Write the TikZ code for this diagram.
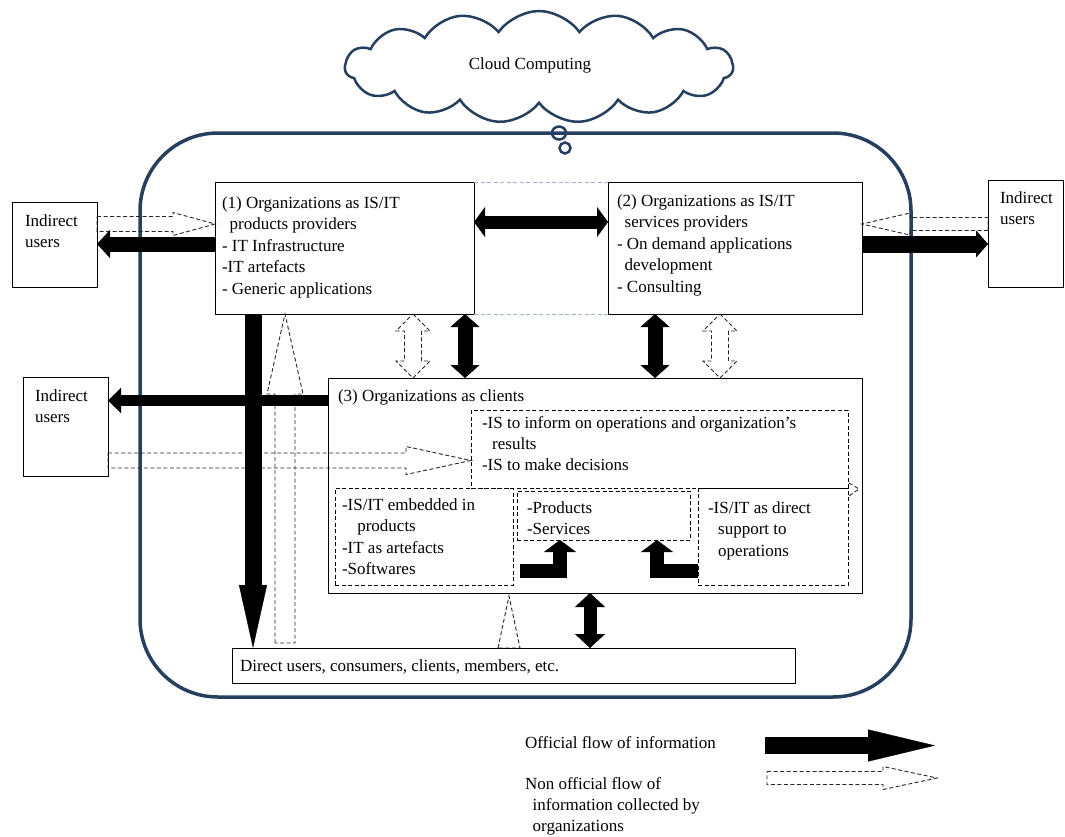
\documentclass[tikz,border=0pt]{standalone}
\usepackage{fontspec}
\setmainfont{Liberation Serif}
\usetikzlibrary{arrows.meta,calc,shapes.symbols}
\definecolor{frameblue}{HTML}{263F5E}
\definecolor{linkblue}{HTML}{9DB3CF}

\tikzset{
  % solid block arrow: shaft width, head width, head length
  official/.style n args={3}{line width=#1,
    -{Triangle[width=#2,length=#3,line width=0.4pt]}},
  official2/.style n args={3}{line width=#1,
    {Triangle[width=#2,length=#3,line width=0.4pt]}-{Triangle[width=#2,length=#3,line width=0.4pt]}},
  % dashed outline arrows
  unofficial/.style={draw=black!85, line width=0.9pt, dash pattern=on 4pt off 2.5pt},
  % outline of a one-headed block arrow: shaft half-width, head half-width, head length
  hollow/.style n args={3}{to path={
      let \p1=(\tikztostart), \p2=(\tikztotarget),
          \n1={veclen(\x2-\x1,\y2-\y1)}, \n2={atan2(\y2-\y1,\x2-\x1)} in
      ($(\p1)+(\n2+90:#1)$) -- ($(\p1)+(\n2:\n1-#3)+(\n2+90:#1)$)
      -- ($(\p1)+(\n2:\n1-#3)+(\n2+90:#2)$) -- (\p2)
      -- ($(\p1)+(\n2:\n1-#3)+(\n2-90:#2)$) -- ($(\p1)+(\n2:\n1-#3)+(\n2-90:#1)$)
      -- ($(\p1)+(\n2-90:#1)$) -- cycle}},
  % outline of a two-headed block arrow
  hollowtwo/.style n args={3}{to path={
      let \p1=(\tikztostart), \p2=(\tikztotarget),
          \n1={veclen(\x2-\x1,\y2-\y1)}, \n2={atan2(\y2-\y1,\x2-\x1)} in
      (\p1) -- ($(\p1)+(\n2:#3)+(\n2+90:#2)$) -- ($(\p1)+(\n2:#3)+(\n2+90:#1)$)
      -- ($(\p1)+(\n2:\n1-#3)+(\n2+90:#1)$) -- ($(\p1)+(\n2:\n1-#3)+(\n2+90:#2)$)
      -- (\p2)
      -- ($(\p1)+(\n2:\n1-#3)+(\n2-90:#2)$) -- ($(\p1)+(\n2:\n1-#3)+(\n2-90:#1)$)
      -- ($(\p1)+(\n2:#3)+(\n2-90:#1)$) -- ($(\p1)+(\n2:#3)+(\n2-90:#2)$) -- cycle}},
}

\begin{document}
\begin{tikzpicture}[x=1pt,y=-1pt,
  every node/.style={inner sep=0pt,outer sep=0pt},
  box/.style={draw,line width=1pt,anchor=north west},
  dbox/.style={box,dash pattern=on 4pt off 2.5pt},
  txt/.style={anchor=north west,align=left,font=\fontsize{17}{21.5}\selectfont},
]
\useasboundingbox (0,0) rectangle (1065,836);

% outer boundary and the cloud above it
\node[draw=frameblue,line width=3.5pt,rounded corners=78pt,anchor=north west,
      minimum width=771,minimum height=564] (frame) at (140,133) {};
\node[cloud,cloud puffs=15,cloud puff arc=110,cloud ignores aspect,draw=frameblue,
      fill=white,line width=2.5pt,minimum width=388,minimum height=112] (cloud) at (539,67) {};
\node[txt,anchor=center] (cloudtxt) at (530,65) {Cloud Computing};
\draw[frameblue,line width=2.5pt] (559,133) ellipse [x radius=7,y radius=6.5];
\draw[frameblue,line width=2.5pt] (565,148) ellipse [x radius=5.5,y radius=5.5];

% boxes
\node[box,minimum width=85,minimum height=85] (ind1) at (12,202) {};
\node[box,minimum width=259,minimum height=132] (box1) at (215,182) {};
\node[box,minimum width=254,minimum height=132] (box2) at (608,182) {};
\node[box,minimum width=75,minimum height=107] (ind2) at (988,180) {};
\node[box,minimum width=85,minimum height=99] (ind3) at (23,377) {};
\node[box,minimum width=534,minimum height=215] (box3) at (328,378) {};
\node[dbox,minimum width=377,minimum height=78] (boxA) at (471,410) {};
\node[dbox,minimum width=178,minimum height=97] (boxB) at (335,488) {};
\node[dbox,minimum width=173,minimum height=49] (boxC) at (517,491) {};
\node[dbox,minimum width=150,minimum height=97] (boxD) at (698,488) {};
\node[box,minimum width=563,minimum height=35] (direct) at (232,648) {};

% faint link between the two provider boxes
\draw[linkblue,line width=1pt,dash pattern=on 4pt off 2.5pt] (box1.north east) -- (box2.north west);
\draw[linkblue,line width=1pt,dash pattern=on 4pt off 2.5pt] (box1.south east) -- (box2.south west);

% texts
\node[txt] (ind1t) at (25,214.4) {Indirect\\users};
\node[txt] (box1t) at (222,196.4) {(1) Organizations as IS/IT\\\hspace*{0.45em}products providers\\- IT Infrastructure\\-IT artefacts\\- Generic applications};
\node[txt] (box2t) at (617,194.4) {(2) Organizations as IS/IT\\\hspace*{0.45em}services providers\\- On demand applications\\\hspace*{0.45em}development\\- Consulting};
\node[txt] (ind2t) at (1000,191.4) {Indirect\\users};
\node[txt] (ind3t) at (35,389.4) {Indirect\\users};
\node[txt] (box3t) at (338,389.4) {(3) Organizations as clients};
\node[txt,font=\fontsize{17}{21}\selectfont] (boxAt) at (482,416.4) {-IS to inform on operations and organization’s\\\hspace*{0.6em}results\\-IS to make decisions};
\node[txt] (boxBt) at (342,498.4) {-IS/IT embedded in\\\hspace*{0.9em}products\\-IT as artefacts\\-Softwares};
\node[txt] (boxCt) at (527,501.4) {-Products\\-Services};
\node[txt] (boxDt) at (708,501.4) {-IS/IT as direct\\\hspace*{0.6em}support to\\\hspace*{0.6em}operations};
\node[txt] (directt) at (240,659.4) {Direct users, consumers, clients, members, etc.};
\node[txt] (leg1t) at (525,736.4) {Official flow of information};
\node[txt,font=\fontsize{17}{21}\selectfont] (leg2t) at (525,777.4) {Non official flow of\\\hspace*{0.45em}information collected by\\\hspace*{0.45em}organizations};

% helper levels
\coordinate (h222) at (0,222);
\coordinate (h224) at (0,224);
\coordinate (h244) at (0,244);
\coordinate (h400) at (0,400.5);
\coordinate (h460) at (0,460.5);
\coordinate (h571) at (0,571);
\coordinate (h643) at (0,643);
\coordinate (v253) at (253,0);
\coordinate (v285) at (285,0);
\coordinate (v413) at (413,0);
\coordinate (v465) at (465,0);
\coordinate (v509) at (509,0);
\coordinate (v560) at (560,0);
\coordinate (v590) at (590,0);
\coordinate (v655) at (655,0);
\coordinate (v657) at (657,0);
\coordinate (v720) at (720,0);

% end points of the outline arrows
\coordinate (u1s) at (ind1.east |- h224);   \coordinate (u1e) at (box1.west |- h224);
\coordinate (u2s) at (ind2.west |- h224);   \coordinate (u2e) at (box2.east |- h224);
\coordinate (u3s) at (ind3.east |- h460);   \coordinate (u3e) at (boxA.west |- h460);
\coordinate (u4s) at (v413 |- box1.south);  \coordinate (u4e) at (v413 |- box3.north);
\coordinate (u5s) at (v720 |- box2.south);  \coordinate (u5e) at (v720 |- box3.north);
\coordinate (u6s) at (v285 |- h643);        \coordinate (u6e) at (v285 |- box1.south);
\coordinate (u7s) at (v509 |- direct.north); \coordinate (u7e) at (509,596);

% non official flows
\draw[unofficial] (u1s) to[hollow={7.5pt}{11.5pt}{42pt}] (u1e);
\draw[unofficial] (u2s) to[hollow={6.5pt}{11pt}{48pt}] (u2e);
\draw[unofficial] (u3s) to[hollow={7.5pt}{14pt}{65pt}] (u3e);
\draw[unofficial] (u4s) to[hollowtwo={8.5pt}{17pt}{17pt}] (u4e);
\draw[unofficial] (u5s) to[hollowtwo={8.5pt}{17pt}{17pt}] (u5e);
\draw[unofficial] (u6s) to[hollow={10pt}{18pt}{80pt}] (u6e);
\draw[unofficial] (u7s) to[hollow={11pt}{11pt}{52pt}] (u7e);
\coordinate (tipa) at (849,483); \coordinate (tipb) at (859,489); \coordinate (tipc) at (849,496);
\draw[unofficial] (tipa) -- (tipb) -- (tipc);

% official flows
\draw[official2={13pt}{30pt}{11pt}] (box1.east |- h222) -- (box2.west |- h222);
\draw[official={15pt}{28pt}{13pt}] (box1.west |- h244) -- (ind1.east |- h244);
\draw[official={17pt}{27pt}{12pt}] (box2.east |- h244) -- (ind2.west |- h244);
\draw[official={11pt}{25pt}{13pt}] (box3.west |- h400) -- (ind3.east |- h400);
\draw[official2={15pt}{29pt}{13pt}] (v465 |- box1.south) -- (v465 |- box3.north);
\draw[official2={15pt}{29pt}{13pt}] (v655 |- box2.south) -- (v655 |- box3.north);
\draw[official={17pt}{28pt}{63pt}] (v253 |- box1.south) -- (v253 |- direct.north);
\draw[official2={13pt}{30pt}{14pt}] (v590 |- box3.south) -- (v590 |- direct.north);
\coordinate (lb) at (520,571);
\draw[official={14pt}{32pt}{12pt},line join=miter] (lb) -- (v560 |- h571) -- (v560 |- boxC.south);
\draw[official={14pt}{32pt}{12pt},line join=miter] (boxD.west |- h571) -- (v657 |- h571) -- (v657 |- boxC.south);

% legend
\coordinate (lg1s) at (765,745.5); \coordinate (lg1e) at (935,745.5);
\draw[official={17pt}{32pt}{67pt}] (lg1s) -- (lg1e);
\coordinate (lg2s) at (767,778); \coordinate (lg2e) at (937,778);
\draw[unofficial] (lg2s) to[hollow={6.5pt}{11.5pt}{54pt}] (lg2e);
\end{tikzpicture}
\end{document}
